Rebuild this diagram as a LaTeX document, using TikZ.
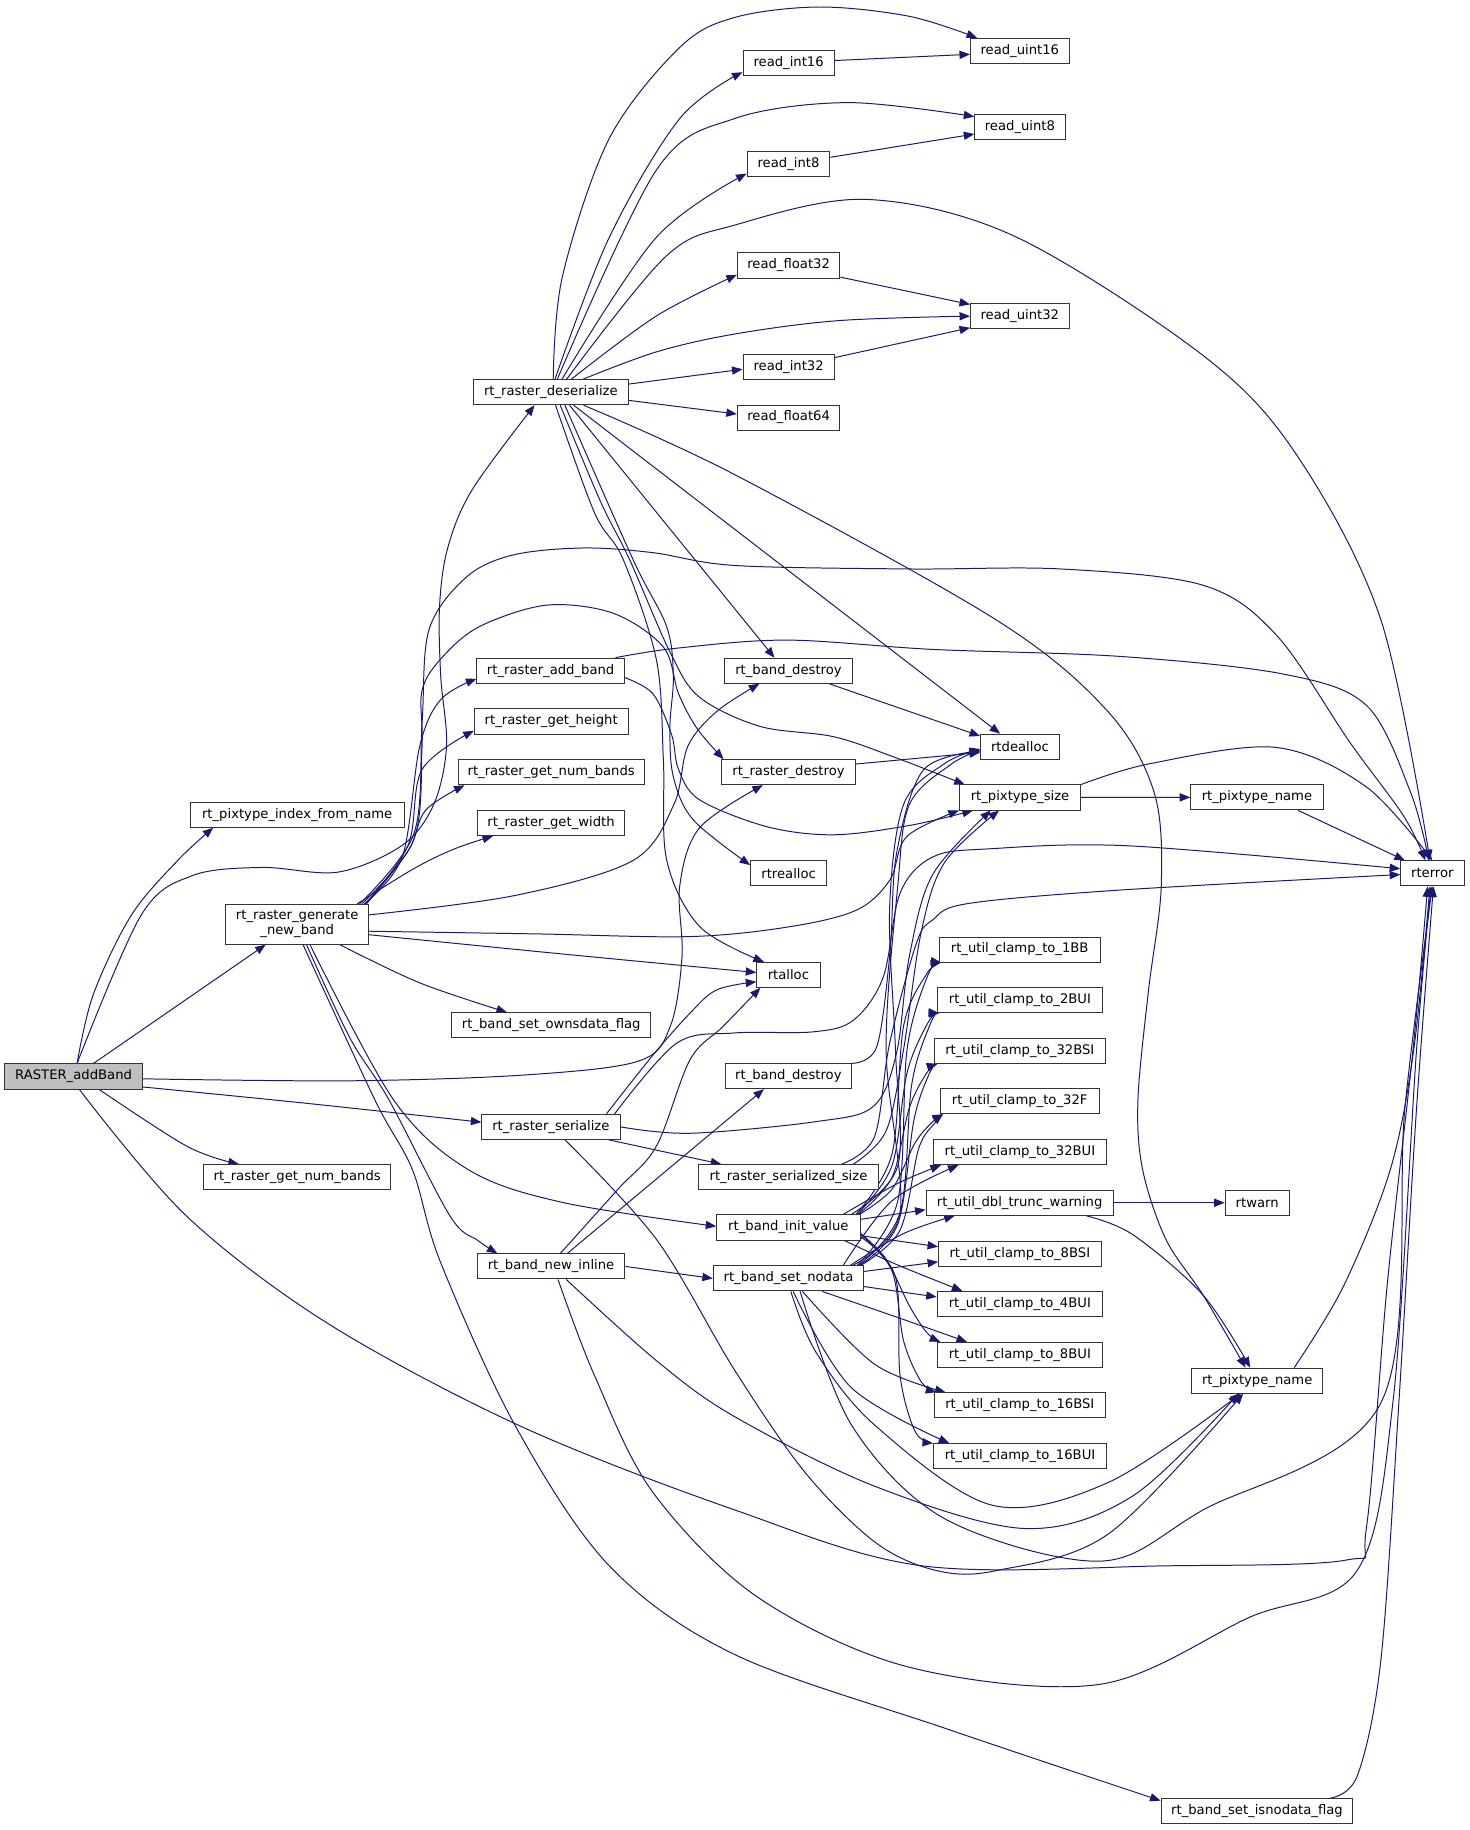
\documentclass[tikz,border=0pt]{standalone}
\usepackage{fontspec}
\setmainfont{DejaVu Sans}
\usetikzlibrary{arrows.meta,calc}
\definecolor{edgec}{RGB}{25,25,112}
\pgfdeclarelayer{bg}
\pgfsetlayers{bg,main}
\newcommand{\ed}[1]{\draw[e] plot[smooth,tension=0.55] coordinates {#1};}
\begin{document}
\begin{tikzpicture}[x=1pt,y=-1pt,
  fn/.style={draw=black!80, line width=0.8pt, fill=white, minimum height=21.5pt, inner sep=0pt, minimum width=#1, font=\fontsize{11.3}{13}\selectfont},
  e/.style={draw=edgec, line width=0.85pt, -{Triangle[length=9pt,width=7pt]}}]
\useasboundingbox (0,0) rectangle (1260,1569.6);
% nodes
\node[fn=84.6pt] (ru16) at (874.7,43.6) {read\_uint16};
\node[fn=78.3pt] (ri16) at (676.4,53.9) {read\_int16};
\node[fn=77.5pt] (ru8) at (874.8,109) {read\_uint8};
\node[fn=71.1pt] (ri8) at (676.3,140.9) {read\_int8};
\node[fn=88pt] (rf32) at (676.4,227.7) {read\_float32};
\node[fn=84.6pt] (ru32) at (874.7,271.1) {read\_uint32};
\node[fn=78.3pt] (ri32) at (676.4,314.7) {read\_int32};
\node[fn=88pt] (rf64) at (676.4,358.1) {read\_float64};
\node[fn=133pt] (des) at (472.5,336.4) {rt\_raster\_deserialize};
\node[fn=126.5pt] (addb) at (472.3,575.2) {rt\_raster\_add\_band};
\node[fn=132pt] (geth) at (472.8,618.8) {rt\_raster\_get\_height};
\node[fn=160pt] (gnb1) at (472.8,662.4) {rt\_raster\_get\_num\_bands};
\node[fn=126.7pt] (getw) at (472.6,705.9) {rt\_raster\_get\_width};
\node[fn=183.3pt] (pidx) at (254.9,698.8) {rt\_pixtype\_index\_from\_name};
\node[fn=122.2pt, minimum height=34.2pt, align=center] (gen) at (254.9,792.7) {rt\_raster\_generate\\\_new\_band};
\node[fn=170.5pt] (own) at (472.8,879.4) {rt\_band\_set\_ownsdata\_flag};
\node[fn=118.2pt, fill=black!25] (rab) at (63.1,923.3) {RASTER\_addBand};
\node[fn=118.5pt] (ser) at (472.5,966.5) {rt\_raster\_serialize};
\node[fn=160pt] (gnb2) at (254.9,1009.6) {rt\_raster\_get\_num\_bands};
\node[fn=126.7pt] (bni) at (472.6,1086.2) {rt\_band\_new\_inline};
\node[fn=109pt] (bd1) at (676.3,575.3) {rt\_band\_destroy};
\node[fn=114.6pt] (rdes) at (676.3,662.3) {rt\_raster\_destroy};
\node[fn=65.2pt] (rreal) at (676.4,749) {rtrealloc};
\node[fn=54.3pt] (ralloc) at (676.2,836.1) {rtalloc};
\node[fn=108.7pt] (bd2) at (676.2,923) {rt\_band\_destroy};
\node[fn=154.6pt] (ssz) at (676.3,1009.6) {rt\_raster\_serialized\_size};
\node[fn=123pt] (biv) at (676.2,1052.8) {rt\_band\_init\_value};
\node[fn=129pt] (bsn) at (676.3,1096.5) {rt\_band\_set\_nodata};
\node[fn=67.6pt] (rdeal) at (874.8,640.4) {rtdealloc};
\node[fn=104.1pt] (psz) at (874.9,684) {rt\_pixtype\_size};
\node[fn=137.8pt] (c1bb) at (874.6,814.4) {rt\_util\_clamp\_to\_1BB};
\node[fn=141.8pt] (c2bui) at (874.8,857.8) {rt\_util\_clamp\_to\_2BUI};
\node[fn=146.7pt] (c32bsi) at (874.7,901.3) {rt\_util\_clamp\_to\_32BSI};
\node[fn=136.7pt] (c32f) at (874.6,944.5) {rt\_util\_clamp\_to\_32F};
\node[fn=148.7pt] (c32bui) at (874.8,988.2) {rt\_util\_clamp\_to\_32BUI};
\node[fn=160.7pt] (dtw) at (874.6,1031.6) {rt\_util\_dbl\_trunc\_warning};
\node[fn=139.4pt] (c8bsi) at (874.7,1075.3) {rt\_util\_clamp\_to\_8BSI};
\node[fn=141.8pt] (c4bui) at (874.7,1118.4) {rt\_util\_clamp\_to\_4BUI};
\node[fn=141.8pt] (c8bui) at (874.7,1162.1) {rt\_util\_clamp\_to\_8BUI};
\node[fn=146.6pt] (c16bsi) at (874.7,1205.3) {rt\_util\_clamp\_to\_16BSI};
\node[fn=148.6pt] (c16bui) at (874.9,1249) {rt\_util\_clamp\_to\_16BUI};
\node[fn=113.7pt] (pn1) at (1078.1,683.9) {rt\_pixtype\_name};
\node[fn=112.8pt] (pn2) at (1078.3,1184.1) {rt\_pixtype\_name};
\node[fn=55pt] (rtwarn) at (1078.3,1031.6) {rtwarn};
\node[fn=54.3pt] (rterr) at (1228.5,749.1) {rterror};
\node[fn=164.6pt] (isn) at (1078.1,1553.4) {rt\_band\_set\_isnodata\_flag};
% edges
\begin{pgfonlayer}{bg}
\fill[white] (0,0) rectangle (1260,1569.6);
% RASTER_addBand
\ed{($(rab.north)+(3,0)$) (80,853) (112.6,785) (152.8,737.6) ($(pidx.south)+(-72,0)$)}
\ed{($(rab.north)+(3,0)$) (121,785) (165,751) (225,744) (290,748) (345,725) (372,690) (383,640) (378,580) (377,520) (384,470) (405,420) ($(des.south)+(-14,0)$)}
\draw[e] ($(rab.north)+(17,0)$) -- ($(gen.south)+(-27,0)$);
\ed{($(rab.south)+(22,0)$) (160.8,983.4) ($(gnb2.north)+(-50,0)$)}
\ed{($(rab.east)+(0,9)$) (260,946) ($(ser.west)+(0,-4)$)}
\ed{($(rab.east)+(0,2)$) (300,927) (450,922) (548,910) (575,880) (585,820) (583,760) (600,710) ($(rdes.south)+(-22,0)$)}
\ed{($(rab.south)+(5,0)$) (160,1043) (281,1135) (446,1223) (630,1295) (791,1343) (1000,1343) (1155,1338) (1172,1310) (1190,1100) (1212,900) ($(rterr.south)+(-4,0)$)}
% generate_new_band
\ed{($(gen.north east)+(-4,0)$) (345,735) (360,640) (378,600) ($(addb.west)+(0,7)$)}
\ed{($(gen.north east)+(-3,0)$) (350,725) (362,660) ($(geth.west)+(0,8)$)}
\ed{($(gen.north east)+(-2,0)$) (350,730) (365,695) ($(gnb1.south west)+(6,0)$)}
\ed{($(gen.north east)+(-10,0)$) (355,745) (390,728) ($(getw.south west)+(14,0)$)}
\ed{($(gen.south east)+(-25,0)$) (360,843) ($(own.north)+(-38,0)$)}
\ed{($(gen.east)+(0,9)$) (480,818) ($(ralloc.west)+(0,-2)$)}
\ed{($(gen.east)+(0,6)$) (460,801) (591.8,803.3) (677.6,794.8) (734.8,780.5) (763.3,754.7) (777.6,717.6) (psz.south west)}
\ed{($(gen.east)+(0,-8)$) (442,768) (543,738) (578,690) (590,640) (615,610) ($(bd1.south)+(-25,0)$)}
\ed{($(gen.north east)+(-6,0)$) (355,720) (362,640) (362,592) (380,563) (412,537) (469,519) (526,526) (569,555) (582,595) (598,625) ($(rdes.north west)+(2,0)$)}
\ed{($(gen.north east)+(-8,0)$) (355,715) (362,620) (368,540) (400,495) (440,476) (500,470) (560,474) (630,485) (780,488) (910,488) (1032,502) (1095,545) (1158,637) (1204,700) ($(rterr.north)+(-6,0)$)}
\ed{($(gen.south)+(8,0)$) (300,890) (333.7,943.5) (386,1043) (410,1064) ($(bni.north)+(-46,0)$)}
\ed{($(gen.south)+(11,0)$) (337.7,943.5) (402,1003.4) (482.4,1031.3) ($(biv.west)+(0,-1)$)}
\ed{($(gen.south)+(5,0)$) (321.6,943.5) (353.8,1003.4) (378,1083) (442,1223) (522.6,1343) (630,1419) (811,1482.5) ($(isn.west)+(0,-9)$)}
% deserialize
\ed{($(des.north)+(2,0)$) (482.4,237) (522.6,118.7) (583,40.7) (630,15) (702.7,6) (780,14) ($(ru16.north west)+(6,0)$)}
\ed{($(des.north)+(3.5,0)$) (522.6,203.5) (583,101.7) ($(ri16.west)+(0,8)$)}
\ed{($(des.north)+(5.5,0)$) (563,145.8) (630,101.7) (727,88) ($(ru8.west)+(0,-9)$)}
\ed{($(des.north)+(9.5,0)$) (563,203.5) ($(ri8.west)+(0,8)$)}
\ed{($(des.north)+(13.5,0)$) (571,220) (630.4,193) (743,171) (871,203) (1032,305) (1112,390) (1184.5,532) ($(rterr.north)+(-2,0)$)}
\ed{($(des.north)+(17.5,0)$) (563,271) ($(rf32.west)+(0,8)$)}
\ed{($(des.north)+(27.5,0)$) (563,301.8) (630,286.5) (719,275) (ru32.west)}
\draw[e] ($(des.east)+(0,-7)$) -- ($(ri32.west)+(0,2)$);
\draw[e] ($(des.east)+(0,7)$) -- ($(rf64.west)+(0,-3)$);
\draw[e] ($(des.south)+(16,0)$) -- ($(bd1.north)+(-12,0)$);
\draw[e] ($(des.south)+(19.5,0)$) -- ($(rdeal.north)+(-17,0)$);
\ed{($(des.south)+(28,0)$) (630,407) (855,532) (950,610) (990,680) (996,760) (985,850) (976,943.5) (980,1003) (1000,1063) (1032,1111) ($(pn2.north)+(-10,0)$)}
\ed{($(des.south)+(8,0)$) (515,430) (540,480) (575,560) (600,598) (651.8,623) (714.7,631.8) (766,649) ($(psz.north west)+(5,0)$)}
\ed{($(des.south)+(4,0)$) (510,440) (534.6,480) (563,566) (569,652) (571.8,737.6) (600.4,795) ($(ralloc.north)+(-21,0)$)}
\ed{($(des.south)+(12,0)$) (543,480) (571.8,537.5) (577.5,580.4) (574.6,623.3) (577.5,666.1) (594.7,703.3) ($(rreal.west)+(0,-7)$)}
% read_* chains
\draw[e] ($(ri16.east)+(0,-2)$) -- ($(ru16.west)+(0,3)$);
\draw[e] ($(ri8.east)+(0,-6)$) -- ($(ru8.west)+(0,6)$);
\draw[e] ($(rf32.east)+(0,10)$) -- ($(ru32.west)+(0,-10)$);
\draw[e] ($(ri32.east)+(0,-8)$) -- ($(ru32.west)+(0,10)$);
% add_band
\ed{($(addb.north east)+(-8,0)$) (580,556) (675,549) (800,557) (960.6,563) (1100,578) (1172,605) (1210,680) ($(rterr.north)+(-3,0)$)}
\ed{($(addb.east)+(0,6)$) (560,595) (576,630) (582,660) (600,686) (657.6,709) (714.7,716) (780,708) ($(psz.south west)+(12,0)$)}
% destroy / dealloc
\draw[e] ($(bd1.south east)+(-20,0)$) -- ($(rdeal.north west)+(0,2)$);
\draw[e] ($(rdes.east)+(0,-7)$) -- ($(rdeal.west)+(0,5)$);
\ed{($(bd2.east)+(0,-11)$) (752,897.7) (763.3,817.6) (769,731.9) (792,660.4) ($(rdeal.west)+(0,4)$)}
% pixtype
\draw[e] (psz.east) -- (pn1.west);
\ed{(psz.north east) (986.4,655) (1094,641) (1172,675) ($(rterr.north)+(0,0)$)}
\draw[e] ($(pn1.south east)+(-22,0)$) -- ($(rterr.north west)+(4,0)$);
\draw[e] (dtw.east) -- (rtwarn.west);
\ed{($(dtw.south)+(57,0)$) (971.7,1059) (1032,1111) ($(pn2.north)+(-6,0)$)}
\ed{($(pn2.north east)+(-25,0)$) (1152.4,1103) (1192.5,1003) (1212.6,900) ($(rterr.south)+(-2,0)$)}
\ed{($(isn.north east)+(-20,0)$) (1164.4,1522.5) (1184.5,1422.7) (1200,1200) (1215,950) ($(rterr.south)+(1,0)$)}
% serialize
\draw[e] ($(ser.south east)+(-10,0)$) -- ($(ssz.north west)+(20,0)$);
\ed{($(ser.north east)+(-12,0)$) (560,905) (591.8,869) (614.7,849) ($(ralloc.west)+(0,6)$)}
\ed{($(ser.north east)+(-5,0)$) (580,895) (629,886) (697.6,885) (732,875) (757.6,838) (772,766) (800,735) (849,728) (969,725.5) ($(rterr.west)+(0,-4)$)}
\ed{(ser.east) (592,972) (700,962) (749,949) (769,903) (780,820) (800,750) ($(psz.south)+(-25,0)$)}
\ed{($(ser.south)+(12,0)$) (563,1063) (630,1175) (690.6,1263) (750.9,1323) (803,1347) (855,1347) (951.6,1315) ($(pn2.south)+(-12,0)$)}
\ed{($(ssz.north east)+(-32,0)$) (750,975) (763,895) (786,809) (800,789) (830,775) (960.6,763.4) ($(rterr.west)+(0,1)$)}
\ed{($(ssz.north east)+(-22,0)$) (760,970) (775,900) (790,800) (810,740) ($(psz.south)+(-18,0)$)}
% band_new_inline
\draw[e] ($(bni.north)+(14,0)$) -- ($(bd2.south)+(-21,0)$);
\ed{($(bni.north)+(8,0)$) (530,1020) (563,983) (591.8,909) (620,880.5) ($(ralloc.south)+(-24,0)$)}
\draw[e] (bni.east) -- (bsn.west);
\ed{($(bni.south)+(13,0)$) (563,1167) (630,1215) (750.9,1275) (879,1311) (971.7,1283) ($(pn2.south)+(-16,0)$)}
\ed{($(bni.south)+(6,0)$) (510,1180) (560,1280) (650,1370) (780,1430) (943.6,1444.6) (1072,1387) (1164,1347) (1195,1200) (1215,900) ($(rterr.south)+(-1,0)$)}
% init_value / set_nodata fan
\draw[e] ($(biv.east)+(0,-7)$) -- ($(dtw.west)+(0,6)$);
\draw[e] ($(biv.east)+(0,7)$) -- ($(c8bsi.west)+(0,-6)$);
\draw[e] ($(bsn.east)+(0,-6)$) -- ($(c8bsi.west)+(0,7)$);
\draw[e] ($(bsn.east)+(0,7)$) -- ($(c4bui.west)+(0,-6)$);
\ed{($(biv.south east)+(-14,0)$) (770,1085) ($(c4bui.north west)+(22,0)$)}
\ed{($(bsn.south east)+(-36,0)$) (770,1130) ($(c8bui.north west)+(26,0)$)}
\ed{($(biv.east)+(0,5)$) (760,1080) (780,1120) (795,1143) ($(c8bui.north west)+(3,0)$)}
\ed{($(bsn.south)+(12,0)$) (750,1170) ($(c16bsi.north west)+(10,0)$)}
\ed{($(biv.east)+(0,6)$) (765,1090) (775,1150) (790,1185) ($(c16bsi.north west)+(2,0)$)}
\ed{($(bsn.south)+(4,0)$) (730,1190) ($(c16bui.north west)+(14,0)$)}
\ed{($(biv.east)+(0,8)$) (768,1095) (772,1180) (785,1228) (c16bui.north west)}
\ed{($(biv.north east)+(-15,0)$) (770,1015) ($(c32bui.south west)+(7,0)$)}
\ed{($(bsn.north east)+(-18,0)$) (765,1030) ($(c32bui.south west)+(22,0)$)}
\ed{($(bsn.north east)+(-12,0)$) (775,1058) ($(dtw.south west)+(25,0)$)}
\ed{($(biv.north east)+(-4,0)$) (765,990) (775,880) (795,835) ($(c1bb.south west)+(2,0)$)}
\ed{($(bsn.north east)+(-6,0)$) (770,1030) (778,900) (796,836) ($(c1bb.south west)+(2,0)$)}
\ed{($(biv.north east)+(-3,0)$) (765,1000) (778,920) (796,877) ($(c2bui.south west)+(2,0)$)}
\ed{($(bsn.north east)+(-5,0)$) (772,1040) (782,930) (798,878) ($(c2bui.south west)+(2,0)$)}
\ed{($(biv.north east)+(-2,0)$) (765,1010) (780,950) (795,920) ($(c32bsi.south west)+(3,0)$)}
\ed{($(bsn.north east)+(-4,0)$) (770,1050) (784,960) (797,921) ($(c32bsi.south west)+(3,0)$)}
\ed{($(biv.north east)+(-1,0)$) (765,1020) (785,980) (800,962) ($(c32f.south west)+(3,0)$)}
\ed{($(bsn.north east)+(-3,0)$) (772,1055) (788,985) (802,963) ($(c32f.south west)+(3,0)$)}
\ed{($(biv.north east)+(-8,0)$) (770,1000) (768,900) (763,780) (775,690) (810,655) ($(rdeal.west)+(0,2)$)}
\ed{($(bsn.north east)+(-10,0)$) (772,1040) (760,900) (770,760) (780,690) (815,656) ($(rdeal.west)+(0,3)$)}
\ed{($(bsn.south)+(2,0)$) (700,1160) (751,1223) (851,1291) (951.6,1271) ($(pn2.south)+(-14,0)$)}
\ed{($(bsn.south)+(10,0)$) (730.8,1223) (811,1303) (943.6,1339) (1032,1295) (1184.5,1203) (1205,950) ($(rterr.south)+(0,0)$)}
\end{pgfonlayer}
\end{tikzpicture}
\end{document}
